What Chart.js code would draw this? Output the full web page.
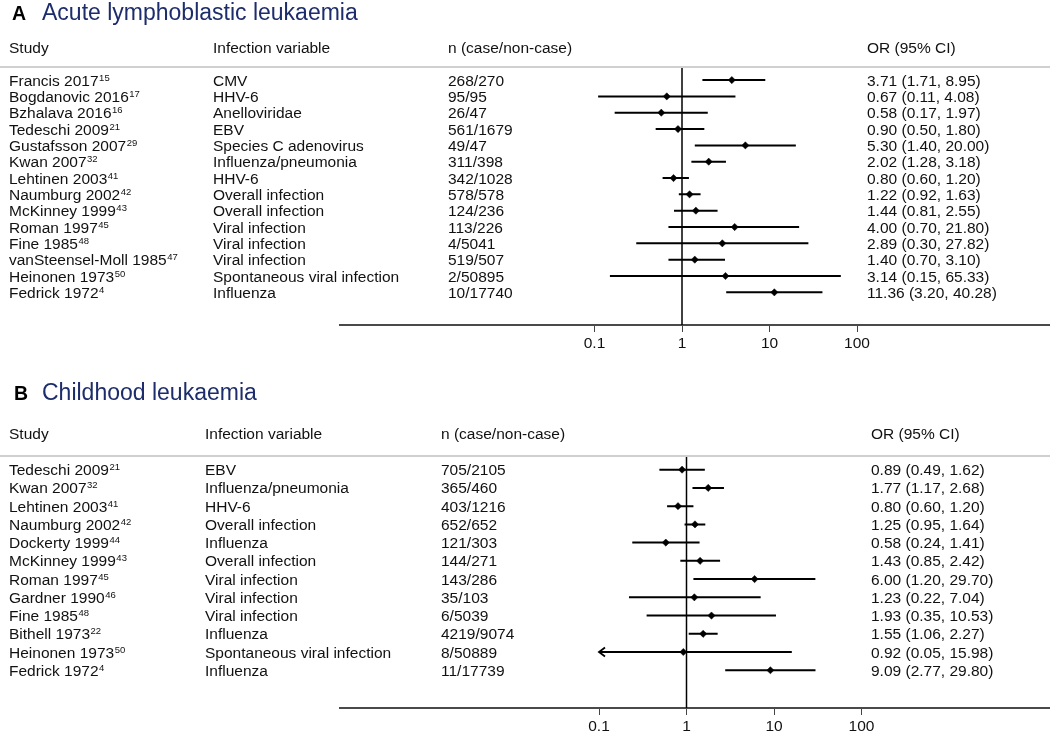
<!DOCTYPE html>
<html lang="en">

<head>
    <meta charset="UTF-8">
    <title>Infection and leukaemia: forest plots</title>
    <style>
        body {
            margin: 0;
            background: #fff;
        }

        canvas {
            display: block;
        }
    </style>
</head>

<body>
    <canvas id="panelA" width="1050" height="366"></canvas>
    <canvas id="panelB" width="1050" height="365"></canvas>

    <script src="https://cdn.jsdelivr.net/npm/chart.js"></script>
    <script>
        // Panel A - acute lymphoblastic leukaemia
        const studiesA = ["Francis 2017", "Bogdanovic 2016", "Bzhalava 2016", "Tedeschi 2009", "Gustafsson 2007",
            "Kwan 2007", "Lehtinen 2003", "Naumburg 2002", "McKinney 1999", "Roman 1997", "Fine 1985",
            "vanSteensel-Moll 1985", "Heinonen 1973", "Fedrick 1972"];
        const refsA = ["15", "17", "16", "21", "29", "32", "41", "42", "43", "45", "48", "47", "50", "4"];
        const infectionsA = ["CMV", "HHV-6", "Anelloviridae", "EBV", "Species C adenovirus", "Influenza/pneumonia",
            "HHV-6", "Overall infection", "Overall infection", "Viral infection", "Viral infection",
            "Viral infection", "Spontaneous viral infection", "Influenza"];
        const countsA = ["268/270", "95/95", "26/47", "561/1679", "49/47", "311/398", "342/1028", "578/578",
            "124/236", "113/226", "4/5041", "519/507", "2/50895", "10/17740"];
        const orA = [3.71, 0.67, 0.58, 0.90, 5.30, 2.02, 0.80, 1.22, 1.44, 4.00, 2.89, 1.40, 3.14, 11.36];
        const lowerA = [1.71, 0.11, 0.17, 0.50, 1.40, 1.28, 0.60, 0.92, 0.81, 0.70, 0.30, 0.70, 0.15, 3.20];
        const upperA = [8.95, 4.08, 1.97, 1.80, 20.00, 3.18, 1.20, 1.63, 2.55, 21.80, 27.82, 3.10, 65.33, 40.28];

        // Panel B - childhood leukaemia
        const studiesB = ["Tedeschi 2009", "Kwan 2007", "Lehtinen 2003", "Naumburg 2002", "Dockerty 1999",
            "McKinney 1999", "Roman 1997", "Gardner 1990", "Fine 1985", "Bithell 1973", "Heinonen 1973",
            "Fedrick 1972"];
        const refsB = ["21", "32", "41", "42", "44", "43", "45", "46", "48", "22", "50", "4"];
        const infectionsB = ["EBV", "Influenza/pneumonia", "HHV-6", "Overall infection", "Influenza",
            "Overall infection", "Viral infection", "Viral infection", "Viral infection", "Influenza",
            "Spontaneous viral infection", "Influenza"];
        const countsB = ["705/2105", "365/460", "403/1216", "652/652", "121/303", "144/271", "143/286", "35/103",
            "6/5039", "4219/9074", "8/50889", "11/17739"];
        const orB = [0.89, 1.77, 0.80, 1.25, 0.58, 1.43, 6.00, 1.23, 1.93, 1.55, 0.92, 9.09];
        const lowerB = [0.49, 1.17, 0.60, 0.95, 0.24, 0.85, 1.20, 0.22, 0.35, 1.06, 0.05, 2.77];
        const upperB = [1.62, 2.68, 1.20, 1.64, 1.41, 2.42, 29.70, 7.04, 10.53, 2.27, 15.98, 29.80];

        const tickValues = [0.1, 1, 10, 100];
        const tickLabels = ["0.1", "1", "10", "100"];
        const headers = ["Study", "Infection variable", "n (case/non-case)", "OR (95% CI)"];

        const FONT = '"Liberation Sans", Arial, sans-serif';
        const CI_MIN = 0.1; // intervals below this are cut and get an arrow

        function makeForest(canvasId, p) {
            const ciData = [];
            p.lower.forEach((lo, i) => {
                ciData.push({ x: Math.max(lo, CI_MIN), y: i }, { x: p.upper[i], y: i }, { x: NaN, y: NaN });
            });
            const orData = p.or.map((v, i) => ({ x: v, y: i }));

            // log range chosen so that 1 sits at xOne and a decade is decadePx wide
            const W = 1050;
            const xMin = Math.pow(10, -(p.xOne - p.axisLeft) / p.decadePx);
            const xMax = Math.pow(10, (W - p.xOne) / p.decadePx);

            const forestText = {
                id: "forestText",
                beforeDatasetsDraw(chart) {
                    const { ctx, chartArea, scales: { x } } = chart;
                    const x1 = x.getPixelForValue(1);
                    ctx.save();
                    ctx.strokeStyle = "#000";
                    ctx.lineWidth = 1.5;
                    ctx.beginPath();
                    ctx.moveTo(x1, chartArea.top);
                    ctx.lineTo(x1, chartArea.bottom);
                    ctx.stroke();
                    ctx.restore();
                },
                afterDraw(chart) {
                    const { ctx, chartArea, scales: { x, y } } = chart;
                    ctx.save();

                    // separator under the header row
                    ctx.strokeStyle = "#d0d0d0";
                    ctx.lineWidth = 2;
                    ctx.beginPath();
                    ctx.moveTo(0, chartArea.top);
                    ctx.lineTo(W, chartArea.top);
                    ctx.stroke();

                    // panel letter and title
                    ctx.textBaseline = "alphabetic";
                    ctx.fillStyle = "#000";
                    ctx.font = "bold 19.5px " + FONT;
                    ctx.fillText(p.letter, p.letterX, p.titleY);
                    ctx.fillStyle = "#1d2d6b";
                    ctx.font = "23px " + FONT;
                    ctx.fillText(p.title, p.titleX, p.titleY);

                    // column headers
                    ctx.fillStyle = "#111";
                    ctx.font = "15.5px " + FONT;
                    headers.forEach((h, c) => ctx.fillText(h, p.cols[c], p.headerY));

                    // rows
                    p.studies.forEach((s, i) => {
                        const by = y.getPixelForValue(i) + 5.5;
                        ctx.font = "15.5px " + FONT;
                        ctx.fillText(s, p.cols[0], by);
                        const sw = ctx.measureText(s).width;
                        ctx.fillText(p.infections[i], p.cols[1], by);
                        ctx.fillText(p.counts[i], p.cols[2], by);
                        const ci = p.or[i].toFixed(2) + " (" + p.lower[i].toFixed(2) + ", " + p.upper[i].toFixed(2) + ")";
                        ctx.fillText(ci, p.cols[3], by);
                        ctx.font = "9.5px " + FONT;
                        ctx.fillText(p.refs[i], p.cols[0] + sw + 0.5, by - 5);
                    });

                    // arrows for cut intervals
                    ctx.strokeStyle = "#000";
                    ctx.lineWidth = 1.8;
                    p.lower.forEach((lo, i) => {
                        if (lo >= CI_MIN) return;
                        const ax = x.getPixelForValue(CI_MIN);
                        const ay = y.getPixelForValue(i);
                        ctx.beginPath();
                        ctx.moveTo(ax + 6, ay - 4.5);
                        ctx.lineTo(ax, ay);
                        ctx.lineTo(ax + 6, ay + 4.5);
                        ctx.stroke();
                    });
                    ctx.restore();
                }
            };

            return new Chart(document.getElementById(canvasId), {
                type: "scatter",
                data: {
                    datasets: [
                        {
                            label: "OR",
                            data: orData,
                            pointStyle: "rectRot",
                            pointRadius: 3.6,
                            pointBorderWidth: 0.5,
                            backgroundColor: "#000",
                            borderColor: "#000"
                        },
                        {
                            label: "95% CI",
                            data: ciData,
                            showLine: true,
                            borderColor: "#000",
                            borderWidth: 2,
                            pointRadius: 0,
                            spanGaps: false
                        }
                    ]
                },
                options: {
                    responsive: false,
                    animation: false,
                    events: [],
                    layout: {
                        autoPadding: false,
                        padding: { left: p.axisLeft, right: 0, top: p.top, bottom: p.bottomPad }
                    },
                    plugins: {
                        legend: { display: false },
                        tooltip: { enabled: false }
                    },
                    scales: {
                        x: {
                            type: "logarithmic",
                            min: xMin,
                            max: xMax,
                            afterBuildTicks: s => { s.ticks = tickValues.map(v => ({ value: v })); },
                            afterFit: s => { s.height = 23; },
                            grid: {
                                drawOnChartArea: false,
                                drawTicks: true,
                                tickLength: 7,
                                color: "#444",
                                lineWidth: 1
                            },
                            border: { display: true, color: "#4a4a4a", width: 2 },
                            ticks: {
                                autoSkip: false,
                                maxRotation: 0,
                                padding: 2,
                                color: "#111",
                                font: { family: FONT, size: 15.5 },
                                callback: v => {
                                    const k = tickValues.indexOf(v);
                                    return k >= 0 ? tickLabels[k] : "";
                                }
                            }
                        },
                        y: {
                            type: "linear",
                            display: false,
                            reverse: true,
                            min: p.yMin,
                            max: p.yMax
                        }
                    }
                },
                plugins: [forestText]
            });
        }

        document.addEventListener("DOMContentLoaded", () => {
            makeForest("panelA", {
                letter: "A", title: "Acute lymphoblastic leukaemia",
                studies: studiesA, refs: refsA, infections: infectionsA, counts: countsA,
                or: orA, lower: lowerA, upper: upperA,
                letterX: 12, titleX: 42, titleY: 19.5, headerY: 53,
                cols: [9, 213, 448, 867],
                top: 67, bottomPad: 18, yMin: -0.8, yMax: 15.0,
                axisLeft: 340, xOne: 682, decadePx: 87.5
            });
            makeForest("panelB", {
                letter: "B", title: "Childhood leukaemia",
                studies: studiesB, refs: refsB, infections: infectionsB, counts: countsB,
                or: orB, lower: lowerB, upper: upperB,
                letterX: 14, titleX: 42, titleY: 33.5, headerY: 72.5,
                cols: [9, 205, 441, 871],
                top: 90, bottomPad: 0, yMin: -0.75, yMax: 13.07,
                axisLeft: 340, xOne: 686.5, decadePx: 87.5
            });
        });
    </script>
</body>

</html>
